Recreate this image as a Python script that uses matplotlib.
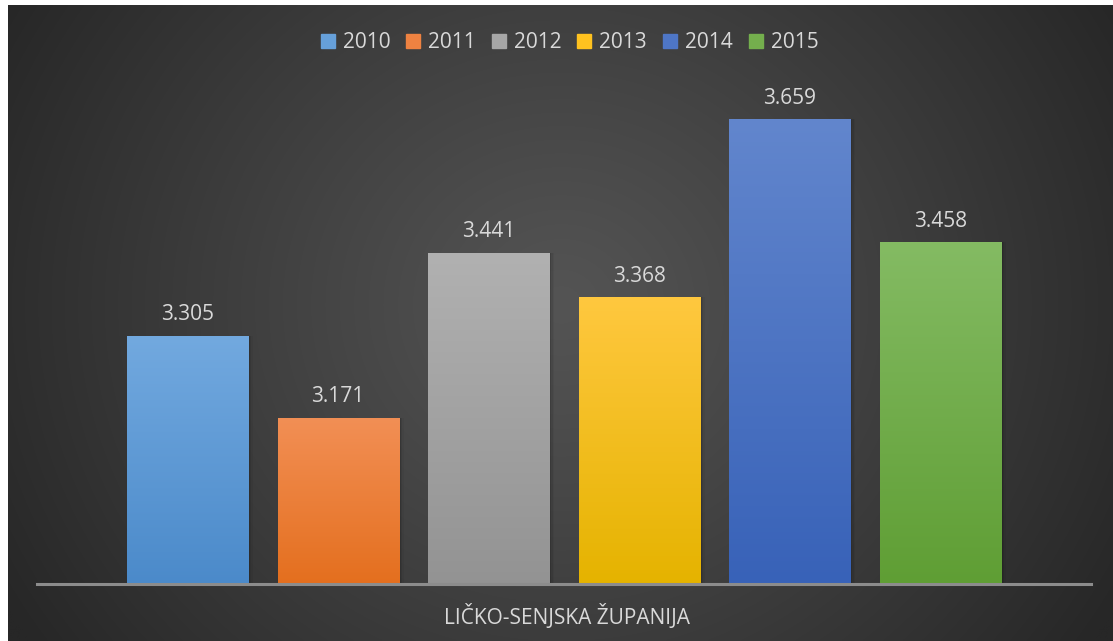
import numpy as np
import matplotlib
matplotlib.use("Agg")
import matplotlib.pyplot as plt
from matplotlib.colors import LinearSegmentedColormap

years = ["2010", "2011", "2012", "2013", "2014", "2015"]
values = [3.305, 3.171, 3.441, 3.368, 3.659, 3.458]
category = "LIČKO-SENJSKA ŽUPANIJA"
top_colors = ["#72A9DF", "#F28F55", "#B1B1B1", "#FFC83F", "#6286CD", "#84BB63"]
bottom_colors = ["#4B8ACA", "#E46F1E", "#939393", "#E5B300", "#3862B8", "#5F9E34"]

plt.rcParams['font.family'] = ['Open Sans', 'DejaVu Sans']
W, H = 1113, 641
fig = plt.figure(figsize=(W / 100, H / 100), dpi=100, facecolor="white")

# background with radial gradient
bg = fig.add_axes([8 / W, 0, (W - 8) / W, (H - 5) / H])
bg.set_axis_off()
yy, xx = np.mgrid[0:300, 0:520]
cx, cy = 520 * 0.50, 300 * 0.47
r = np.sqrt(((xx - cx) / 520) ** 2 + ((yy - cy) / 300 * 0.62) ** 2)
r = np.clip(r / 0.58, 0, 1)
c0 = np.array([0x54, 0x54, 0x54]) / 255
c1 = np.array([0x27, 0x27, 0x27]) / 255
img = c0[None, None, :] * (1 - r[..., None] ** 1.1) + c1[None, None, :] * (r[..., None] ** 1.1)
bg.imshow(img, aspect="auto", extent=[0, 1, 0, 1], interpolation="bilinear")
bg.set_xlim(0, 1)
bg.set_ylim(0, 1)

ax = fig.add_axes([37 / W, (H - 584) / H, (1091 - 37) / W, (584 - 33) / H])
ax.patch.set_alpha(0)
x = np.arange(len(years))
width = 0.805

# shadows
for xi, v in zip(x, values):
    for k, a in enumerate([0.10, 0.07, 0.04]):
        ax.bar(xi + 0.012 + 0.01 * k, v - 2.9 + 0.004 * k, width=width, bottom=2.9 - 0.004 * k,
               color="black", alpha=a, linewidth=0, zorder=1)

bars = ax.bar(x, np.array(values) - 2.9, bottom=2.9, width=width, color=top_colors,
              linewidth=0, zorder=2)
for b, tc, bc in zip(bars, top_colors, bottom_colors):
    cmap = LinearSegmentedColormap.from_list("g", [bc, tc])
    grad = np.linspace(0, 1, 256).reshape(-1, 1)
    x0, y0 = b.get_x(), b.get_y()
    im = ax.imshow(grad, cmap=cmap, origin="lower", aspect="auto",
                   extent=[x0, x0 + b.get_width(), y0, y0 + b.get_height()], zorder=3)
    im.set_clip_path(b)
    b.set_facecolor(cmap(0.5))

for xi, v in zip(x, values):
    ax.annotate(f"{v:.3f}", (xi, v), xytext=(0, 11.3), textcoords="offset points",
                ha="center", va="baseline", color="#D9D9D9", fontsize=15, zorder=5)

ax.set_xlim(-1, 6)
ax.set_ylim(2.9, 3.8)
ax.axhline(2.9, color="#8C8C8C", linewidth=2.2, zorder=4, clip_on=False)
for s in ax.spines.values():
    s.set_visible(False)
ax.set_xticks([])
ax.set_yticks([])
fig.text(567 / W, 1 - 617 / H, category, ha="center", va="center", color="#D9D9D9", fontsize=15)

handles = [plt.Rectangle((0, 0), 1, 1, color=c) for c in
           ["#66A0DA", "#EE8241", "#A7A7A7", "#FFC21F", "#4E76C6", "#74AF4D"]]
leg = fig.legend(handles, years, loc="center", bbox_to_anchor=(569.5 / W, 1 - 43 / H), ncol=6,
                 frameon=False, fontsize=15, handlelength=0.67, handleheight=0.67,
                 handletextpad=0.38, columnspacing=0.77, labelcolor="#D9D9D9")
fig.savefig("out.png", dpi=100, facecolor="white")
